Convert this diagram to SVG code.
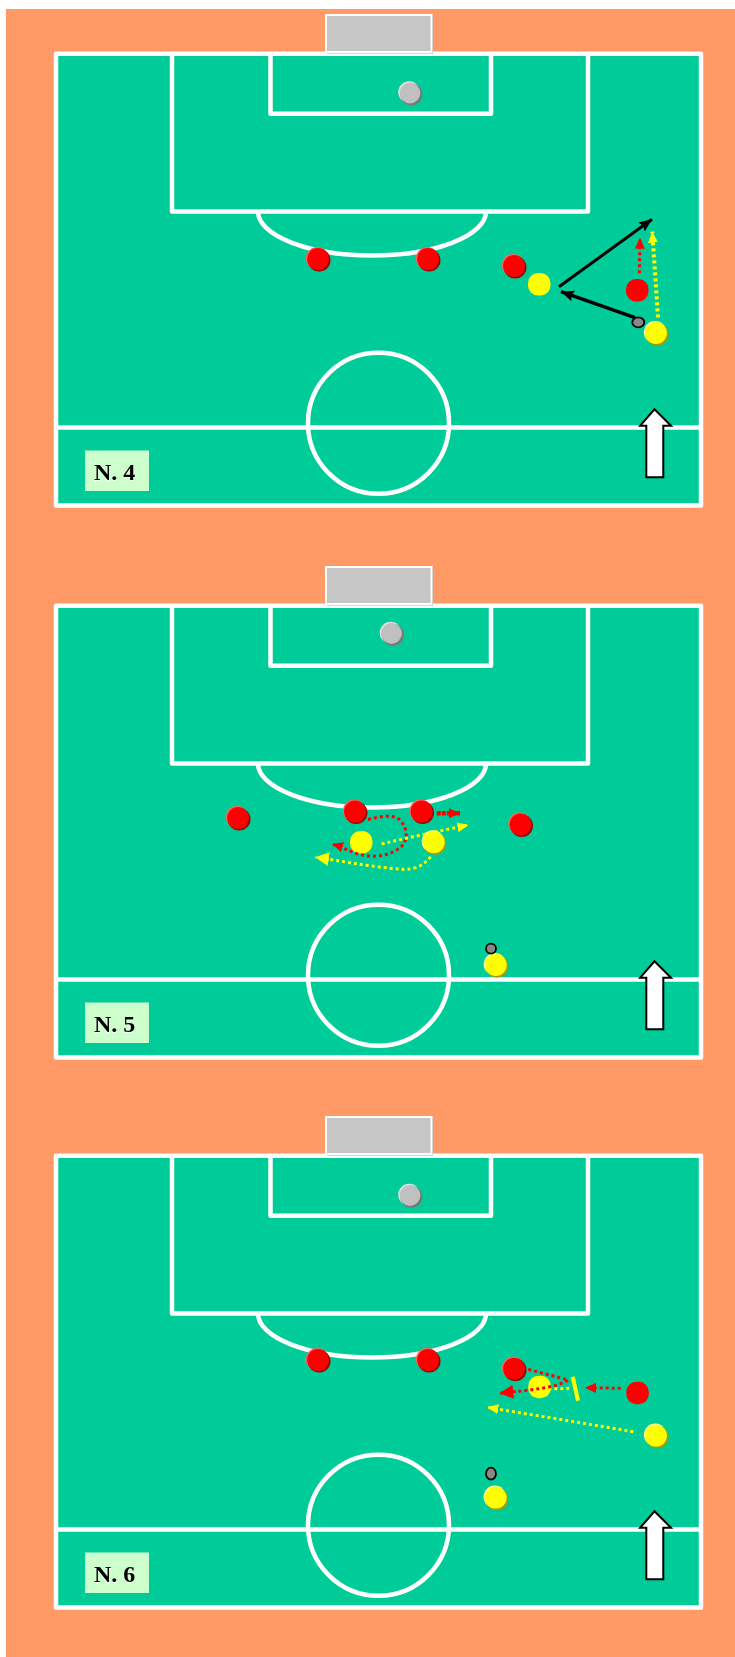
<svg xmlns="http://www.w3.org/2000/svg" width="735" height="1657" viewBox="0 0 735 1657">
<style>
.ln{fill:none;stroke:#fff;stroke-width:4.500;stroke-linejoin:round}
.lbl{font:bold 24px "Liberation Serif",serif;fill:#000;filter:drop-shadow(0.5px 1px 0 #fff)}
.k{fill:none;stroke:#000;stroke-width:3.500}
.rd{fill:none;stroke:#f00;stroke-width:3;stroke-dasharray:3 3}
.yd{fill:none;stroke:#ff0;stroke-width:3;stroke-dasharray:3 3}
.rf{fill:#f00}.yf{fill:#ff0}
.ball{fill:#888;stroke:#000;stroke-width:1.800}
</style>
<defs>
<marker id="ak" markerUnits="userSpaceOnUse" markerWidth="15" markerHeight="13" refX="13" refY="6.500" orient="auto"><path d="M0 1L13 6.500L0 12L2 6.500Z" fill="#000"/></marker>
<marker id="ar" markerUnits="userSpaceOnUse" markerWidth="12" markerHeight="10" refX="11" refY="5" orient="auto"><path d="M0 0L11 5L0 10Z" fill="#f00"/></marker>
<marker id="ay" markerUnits="userSpaceOnUse" markerWidth="12" markerHeight="10" refX="11" refY="5" orient="auto"><path d="M0 0L11 5L0 10Z" fill="#ff0"/></marker>
<marker id="ayb" markerUnits="userSpaceOnUse" markerWidth="15" markerHeight="14" refX="14" refY="7" orient="auto"><path d="M0 0L14 7L0 14Z" fill="#ff0"/></marker>
<marker id="arb" markerUnits="userSpaceOnUse" markerWidth="15" markerHeight="14" refX="14" refY="7" orient="auto"><path d="M0 0L14 7L0 14Z" fill="#f00"/></marker>
<g id="red"><circle cx="-0.800" cy="-0.800" r="11.300" fill="#ff6666"/><circle cx="1.200" cy="1.200" r="11.300" fill="#990000"/><circle r="10.900" fill="#f00"/></g>
<g id="yellow"><circle cx="-0.800" cy="-0.800" r="11.300" fill="#ffff99"/><circle cx="1.200" cy="1.200" r="11.300" fill="#a89a00"/><circle r="10.900" fill="#ff0"/></g>
<g id="keeper"><circle cx="-0.800" cy="-0.800" r="11" fill="#e0e0e0"/><circle cx="1.300" cy="1.300" r="11" fill="#777"/><circle r="10.400" fill="#c0c0c0"/></g>
<g id="pitch">
<rect x="56" y="53.700" width="645" height="451.700" class="ln" style="fill:#00cc99"/>
<path class="ln" d="M56 427.500H700M172 53.700V211.500H588V53.700M270.500 53.700V113.700H491V53.700M258 211.500A114 44 0 0 0 486 211.500"/>
<circle class="ln" cx="378.500" cy="423.200" r="70.500"/>
<rect x="327" y="16" width="106" height="37.500" fill="#aaa"/>
<rect x="326" y="15" width="105.500" height="37" fill="#c6c6c6" stroke="#fff" stroke-width="2"/>
<path d="M640.200 425.700L654.500 409.300L671 425.700H663.300V477.300H646.300V425.700Z" fill="#fff" stroke="#000" stroke-width="2"/>
<rect x="85" y="450.500" width="64" height="40.500" fill="#ccffcc"/>
</g>
</defs>
<rect x="6" y="9" width="729" height="1648" fill="#ff9966"/>
<g id="field-4">
<use href="#pitch"/>
<text class="lbl" x="94" y="480">N. 4</text>
<use id="f4-keeper" href="#keeper" x="410" y="93"/>
<use id="f4-r1" href="#red" x="318" y="259"/>
<use id="f4-r2" href="#red" x="428" y="259"/>
<use id="f4-r3" href="#red" x="514" y="266"/>
<g id="f4-y1"><rect x="528" y="273" width="22.500" height="22.500" rx="10" class="yf"/></g>
<g id="f4-r4"><rect x="626" y="279" width="22.500" height="22.500" rx="10" class="rf"/></g>
<use id="f4-y2" href="#yellow" x="656" y="333"/>
<ellipse id="f4-ball" cx="638.300" cy="322.300" rx="6" ry="5" class="ball"/>
<g id="f4-connectors">
<path class="k" style="stroke-width:3" d="M559 286.700L652 219.300" marker-end="url(#ak)"/>
<path class="k" d="M635 317.700L561 291.700" marker-end="url(#ak)"/>
<path class="rd" d="M639.300 273.300L640 237.700" marker-end="url(#ar)"/>
<path class="yd" style="stroke-width:4" d="M658 317.300L652.300 231.700" marker-end="url(#ay)"/>
</g>
</g>
<g id="field-5">
<use href="#pitch" y="552"/>
<text class="lbl" x="94" y="1032">N. 5</text>
<use id="f5-keeper" href="#keeper" x="391.500" y="633.500"/>
<use id="f5-r1" href="#red" x="238" y="818"/>
<use id="f5-r2" href="#red" x="355" y="811.500"/>
<use id="f5-r3" href="#red" x="421.500" y="811.500"/>
<use id="f5-r4" href="#red" x="520.500" y="824.500"/>
<g id="f5-y1"><rect x="350" y="831" width="22.500" height="22.500" rx="10" class="yf"/></g>
<use id="f5-y2" href="#yellow" x="433.800" y="842.300"/>
<use id="f5-y3" href="#yellow" x="495.800" y="965"/>
<circle id="f5-ball" cx="491" cy="948.700" r="5" class="ball"/>
<g id="f5-connectors">
<path class="rd" d="M368 819.500C382 816 395 814 401 821C408 830 408 840 401 847C388 857 372 858 358 854C349 851 342 847 332 844" marker-end="url(#ar)"/>
<path class="rd" style="stroke-width:4.500;stroke-dasharray:4 1" d="M436.700 813.300H460" marker-end="url(#ar)"/>
<path class="yd" d="M381.700 844C410 837 440 831 468.300 825" marker-end="url(#ay)"/>
<path class="yd" d="M430.700 856.700C425 863 421 866 416.700 867.300C410 869.500 405 869.500 401.700 869.300C385 868 368 865.500 353.300 863.300C340 861 328 859 315 857.300" marker-end="url(#ayb)"/>
</g>
</g>
<g id="field-6">
<use href="#pitch" y="1102"/>
<text class="lbl" x="94" y="1582">N. 6</text>
<use id="f6-keeper" href="#keeper" x="410" y="1195.500"/>
<use id="f6-r1" href="#red" x="318" y="1360"/>
<use id="f6-r2" href="#red" x="428" y="1360"/>
<use id="f6-r3" href="#red" x="514" y="1368.700"/>
<g id="f6-y1"><rect x="528.300" y="1375.700" width="22.500" height="22.500" rx="10" class="yf"/></g>
<g id="f6-r4"><rect x="626.300" y="1381.700" width="22.500" height="22.500" rx="10" class="rf"/></g>
<use id="f6-y2" href="#yellow" x="656" y="1435.700"/>
<use id="f6-y3" href="#yellow" x="495.700" y="1497.700"/>
<ellipse id="f6-ball" cx="491" cy="1473.700" rx="5" ry="6" class="ball"/>
<g id="f6-connectors">
<path d="M572.700 1376.700L578 1400.700" stroke="#ff0" stroke-width="4" fill="none"/>
<path class="rd" d="M620.700 1388.300L585 1387.700" marker-end="url(#ar)"/>
<path class="yd" d="M569.300 1388.300L550 1389"/>
<path class="rd" d="M528.300 1369.300L568.300 1380C556 1388 530 1390 499.300 1393.300" marker-end="url(#arb)"/>
<path class="yd" d="M633.300 1431.700L487.300 1407.300" marker-end="url(#ay)"/>
</g>
</g>
</svg>
